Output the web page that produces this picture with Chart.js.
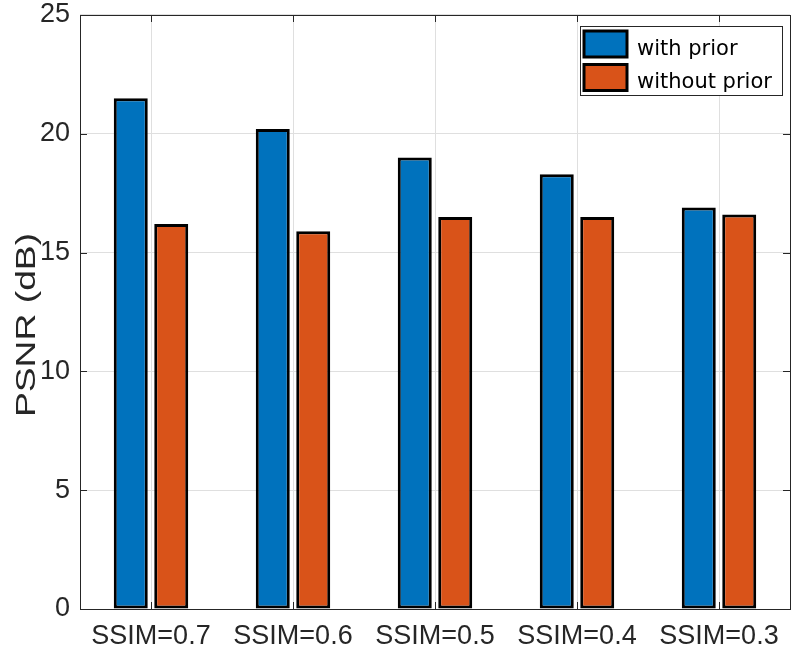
<!DOCTYPE html>
<html>
<head>
<meta charset="utf-8">
<script src="https://cdn.jsdelivr.net/npm/chart.js@4/dist/chart.umd.min.js"></script>
<style>
  html, body { margin: 0; padding: 0; background: #ffffff; }
  #wrap { width: 797px; height: 651px; }
</style>
</head>
<body>
<div id="wrap"><canvas id="c" width="797" height="651"></canvas></div>
<script>
const categories = ['SSIM=0.7', 'SSIM=0.6', 'SSIM=0.5', 'SSIM=0.4', 'SSIM=0.3'];
const withPrior = [21.5, 20.2, 19.0, 18.3, 16.9];
const withoutPrior = [16.2, 15.9, 16.5, 16.5, 16.6];
const seriesNames = ['with prior', 'without prior'];
const seriesColors = ['#0072BD', '#D95319'];
const yTickValues = [0, 5, 10, 15, 20, 25];
const yLabel = 'PSNR (dB)';

const AXIS = '#262626';
const GRID = '#dfdfdf';
const FAMILY = 'Liberation Sans, Arial, Helvetica, sans-serif';
const TICKFONT = { family: FAMILY, size: 27, lineHeight: 0.37 };

const framePlugin = {
  id: 'frame',
  afterDatasetsDraw(chart) {
    const { ctx, chartArea: a, scales } = chart;
    ctx.save();
    ctx.strokeStyle = AXIS;
    ctx.lineWidth = 1;
    const tl = 7;
    ctx.beginPath();
    scales.y.ticks.forEach((t, i) => {
      const y = Math.round(scales.y.getPixelForTick(i)) + 0.5;
      ctx.moveTo(a.left, y); ctx.lineTo(a.left + tl, y);
      ctx.moveTo(a.right, y); ctx.lineTo(a.right - tl, y);
    });
    scales.x.ticks.forEach((t, i) => {
      const x = Math.round(scales.x.getPixelForValue(i)) + 0.5;
      ctx.moveTo(x, a.bottom); ctx.lineTo(x, a.bottom - tl);
      ctx.moveTo(x, a.top); ctx.lineTo(x, a.top + tl);
    });
    ctx.stroke();
    ctx.strokeRect(Math.round(a.left) + 0.5, Math.round(a.top) + 0.5,
                   Math.round(a.right - a.left), Math.round(a.bottom - a.top));
    // y-axis title (stretched along its direction as in the reference)
    ctx.save();
    ctx.translate(35, (a.top + a.bottom) / 2 + 13);
    ctx.rotate(-Math.PI / 2);
    ctx.scale(1.33, 1);
    ctx.fillStyle = AXIS;
    ctx.font = '28px ' + FAMILY;
    ctx.textAlign = 'center';
    ctx.textBaseline = 'alphabetic';
    ctx.fillText(yLabel, 0, 0);
    ctx.restore();
    // legend
    const lx = 580, ly = 26, lw = 202, lh = 69;
    ctx.fillStyle = '#ffffff';
    ctx.fillRect(lx, ly, lw, lh);
    ctx.strokeStyle = AXIS;
    ctx.lineWidth = 1;
    ctx.strokeRect(lx + 0.5, ly + 0.5, lw, lh);
    chart.data.datasets.forEach((ds, i) => {
      const sy = 31 + i * 33.5;
      ctx.fillStyle = ds.backgroundColor;
      ctx.fillRect(584, sy, 43, 26);
      ctx.strokeStyle = '#000000';
      ctx.lineWidth = 3;
      ctx.strokeRect(584, sy, 43, 26);
      ctx.fillStyle = '#000000';
      ctx.font = '21px "DejaVu Sans", Verdana, sans-serif';
      ctx.textBaseline = 'alphabetic';
      ctx.textAlign = 'left';
      ctx.fillText(ds.label, 637, 55 + i * 33);
    });
    ctx.restore();
  }
};

new Chart(document.getElementById('c'), {
  type: 'bar',
  data: {
    labels: categories,
    datasets: [
      { label: seriesNames[0], data: withPrior, backgroundColor: seriesColors[0],
        borderColor: '#000000', borderWidth: 3, borderSkipped: false },
      { label: seriesNames[1], data: withoutPrior, backgroundColor: seriesColors[1],
        borderColor: '#000000', borderWidth: 3, borderSkipped: false }
    ]
  },
  options: {
    responsive: false,
    animation: false,
    devicePixelRatio: 1,
    layout: { padding: { left: 0, right: 7, top: 0, bottom: 0 } },
    datasets: { bar: { categoryPercentage: 0.57, barPercentage: 0.84 } },
    plugins: { legend: { display: false }, tooltip: { enabled: false } },
    scales: {
      x: {
        offset: true,
        grid: { offset: false, color: GRID, lineWidth: 1, drawTicks: false },
        border: { display: false },
        ticks: { color: AXIS, font: { family: FAMILY, size: 27 }, padding: 11, maxRotation: 0, autoSkip: false },
        afterFit(s) { s.height = 42; }
      },
      y: {
        min: 0, max: 25,
        afterBuildTicks(s) { s.ticks = yTickValues.map(v => ({ value: v })); },
        grid: { color: GRID, lineWidth: 1, drawTicks: false },
        border: { display: false },
        ticks: { color: AXIS, font: TICKFONT, padding: 10 },
        afterFit(s) { s.width = 80; }
      }
    }
  },
  plugins: [framePlugin]
});
</script>
</body>
</html>
